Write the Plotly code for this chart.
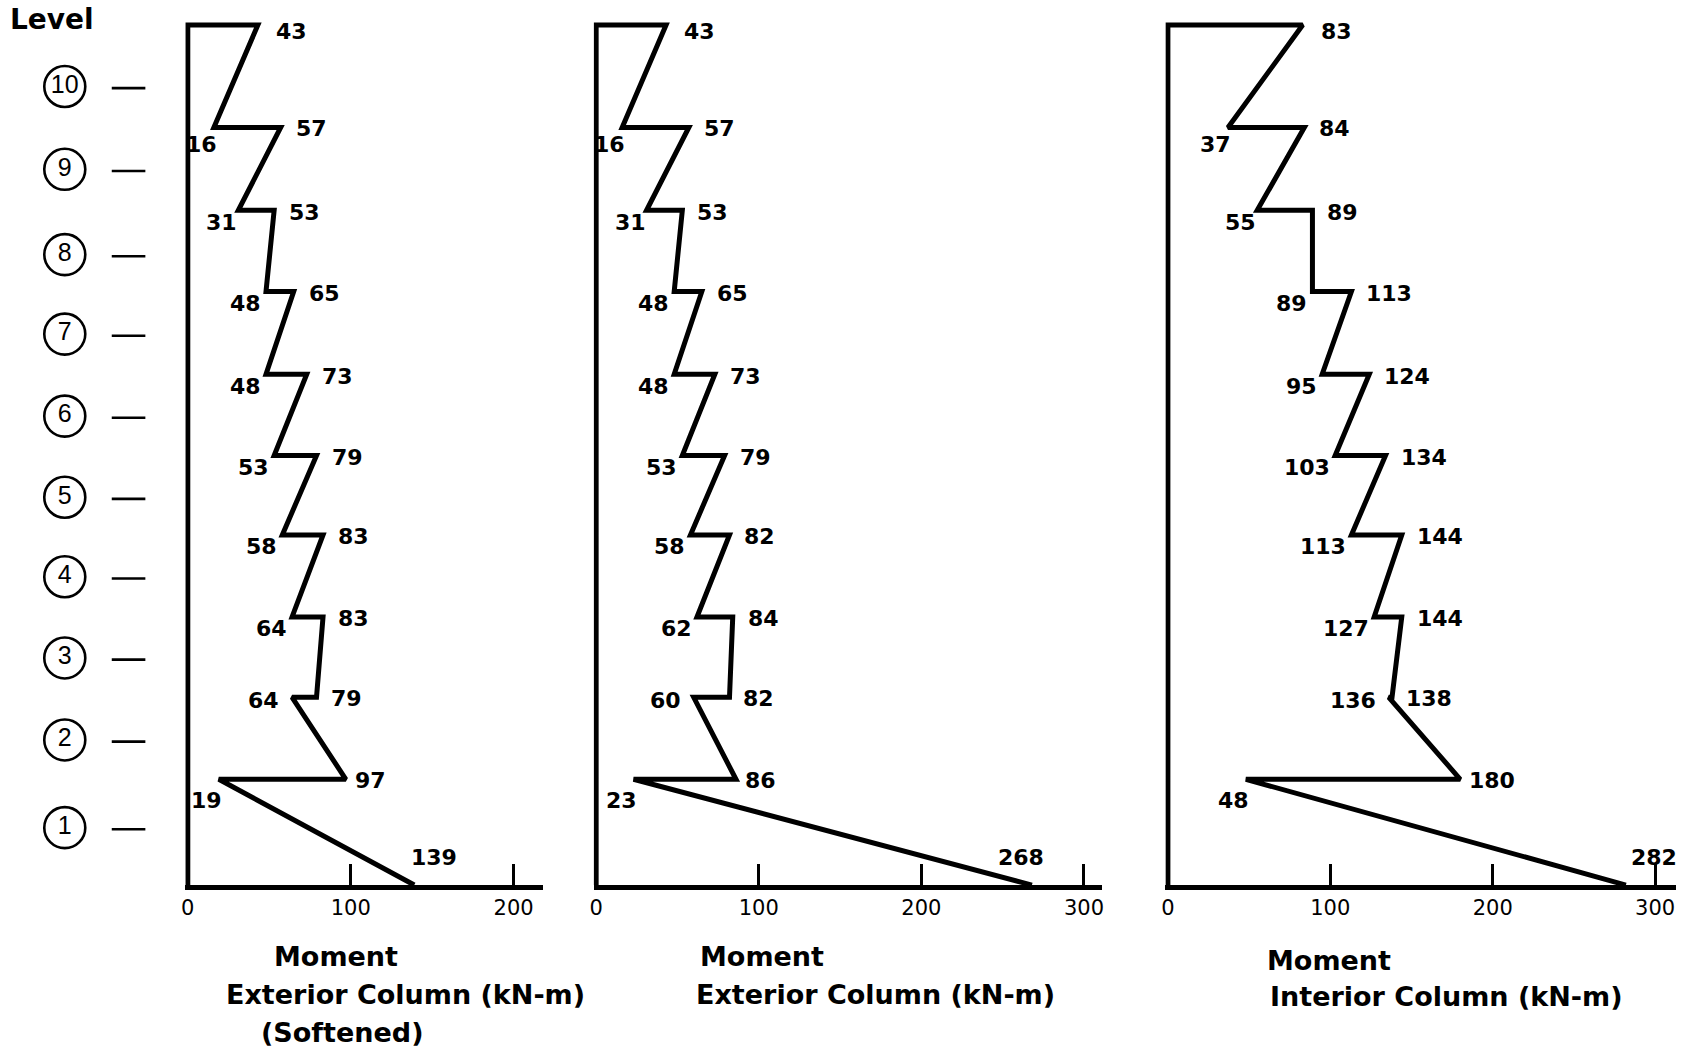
import plotly.graph_objects as go

# ---------------- data ----------------
# elevation of the floor lines, base -> roof (drawing units)
floor_elev = [0.0, 1.29, 2.29, 3.27, 4.27, 5.24, 6.23, 7.24, 8.23, 9.24, 10.49]
# position of the circled level markers (level 1 -> 10)
level_labels = ["1", "2", "3", "4", "5", "6", "7", "8", "9", "10"]
level_pos = [0.70, 1.77, 2.77, 3.76, 4.73, 5.72, 6.72, 7.69, 8.73, 9.74]

# column end moments per storey, listed from storey 10 (top) down to storey 1
ext_soft_top = [43, 57, 53, 65, 73, 79, 83, 83, 64, 19]
ext_soft_bot = [16, 31, 48, 48, 53, 58, 64, 79, 97, 139]
ext_top = [43, 57, 53, 65, 73, 79, 82, 84, 60, 23]
ext_bot = [16, 31, 48, 48, 53, 58, 62, 82, 86, 268]
int_top = [83, 84, 89, 113, 124, 134, 144, 144, 136, 48]
int_bot = [37, 55, 89, 95, 103, 113, 127, 138, 180, 282]

ticks_1 = [0, 100, 200]
ticks_23 = [0, 100, 200, 300]

titles_1 = ["Moment", "Exterior Column (kN-m)", "(Softened)"]
titles_2 = ["Moment", "Exterior Column (kN-m)"]
titles_3 = ["Moment", "Interior Column (kN-m)"]

# ---------------- layout / style ----------------
FONT = "DejaVu Sans"
BLACK = "black"
Y_RANGE = [0, 10.6]
Y_DOMAIN = [0.1595, 0.9848]
LW = 5

panels = [
    dict(top=ext_soft_top, bot=ext_soft_bot, ticks=ticks_1, xr=[-1.5, 218],
         dom=[0.10763, 0.31987], base_dx=20,
         titles=titles_1, tpos=[(0.1969, 0.0912), (0.2383, 0.0560), (0.2011, 0.0199)]),
    dict(top=ext_top, bot=ext_bot, ticks=ticks_23, xr=[-1.5, 311],
         dom=[0.34997, 0.65156], base_dx=-11,
         titles=titles_2, tpos=[(0.4500, 0.0912), (0.5174, 0.0560)]),
    dict(top=int_top, bot=int_bot, ticks=ticks_23, xr=[-1.5, 313],
         dom=[0.68929, 0.99243], base_dx=28,
         titles=titles_3, tpos=[(0.7865, 0.0883), (0.8563, 0.0541)]),
]

fig = go.Figure()
annotations = []
lab_font = dict(family=FONT, size=22, color=BLACK, weight="bold")

for idx, p in enumerate(panels):
    n = "" if idx == 0 else str(idx + 1)
    xs = [0, 0]
    ys = [0, floor_elev[10]]
    for i in range(10):
        s = 10 - i
        xs += [p["top"][i], p["bot"][i]]
        ys += [floor_elev[s], floor_elev[s - 1]]
    fig.add_trace(go.Scatter(x=xs, y=ys, mode="lines",
                             line=dict(color=BLACK, width=LW),
                             xaxis="x" + n, yaxis="y" + n,
                             hoverinfo="skip", showlegend=False))

    def lab(val, y, anchor, dx, dy):
        annotations.append(dict(x=val, y=y, xref="x" + n, yref="y" + n,
                                text=str(val), showarrow=False,
                                xanchor=anchor, yanchor="middle",
                                xshift=dx, yshift=dy, font=lab_font))

    # roof value
    lab(p["top"][0], floor_elev[10], "left", 16, -6)
    # joints 9 .. 1
    for k in range(9, 0, -1):
        b_above = p["bot"][9 - k]
        t_below = p["top"][10 - k]
        hi, lo = max(b_above, t_below), min(b_above, t_below)
        y = floor_elev[k]
        if k == 1:
            lab(hi, y, "left", 7, -1)
            lab(lo, y, "right", 5, -21)
        elif k == 2:
            lab(hi, y, "left", 12, -1)
            lab(lo, y, "right", -11, -3)
        elif k == 9:
            lab(hi, y, "left", 13, -1)
            lab(lo, y, "right", 5, -17)
        elif k == 8:
            lab(hi, y, "left", 13, -2)
            lab(lo, y, "right", 1, -12)
        else:
            lab(hi, y, "left", 13, -2)
            lab(lo, y, "right", -3, -12)
    # base value
    annotations.append(dict(x=p["bot"][9], y=0, xref="x" + n, yref="y" + n,
                            text=str(p["bot"][9]), showarrow=False,
                            xanchor="center", yanchor="middle",
                            xshift=p["base_dx"], yshift=28, font=lab_font))

    fig.update_layout(**{
        "xaxis" + n: dict(domain=p["dom"], range=p["xr"], anchor="y" + n,
                          showline=True, linewidth=LW, linecolor=BLACK,
                          ticks="inside", ticklen=21, tickwidth=3, tickcolor=BLACK,
                          tickvals=p["ticks"], ticktext=[str(t) for t in p["ticks"]],
                          tickfont=dict(family=FONT, size=21, color=BLACK),
                          showgrid=False, zeroline=False, fixedrange=True),
        "yaxis" + n: dict(domain=Y_DOMAIN, range=Y_RANGE, anchor="x" + n,
                          visible=False, showgrid=False, zeroline=False,
                          fixedrange=True),
    })

    for t, (tx, ty) in zip(p["titles"], p["tpos"]):
        annotations.append(dict(x=tx, y=ty, xref="paper", yref="paper", text=t,
                                showarrow=False, xanchor="center", yanchor="middle",
                                font=dict(family=FONT, size=27, color=BLACK,
                                          weight="bold")))

# level markers (own subplot sharing the vertical scale)
fig.add_trace(go.Scatter(x=[61] * len(level_pos), y=level_pos, mode="markers+text",
                         text=level_labels, textposition="middle center",
                         textfont=dict(family="Liberation Sans", size=25, color=BLACK),
                         marker=dict(symbol="circle-open", size=41, color=BLACK,
                                     line=dict(width=2.6, color=BLACK)),
                         xaxis="x4", yaxis="y4", hoverinfo="skip", showlegend=False))
fig.add_trace(go.Scatter(x=[125] * len(level_pos), y=[v - 0.02 for v in level_pos],
                         mode="markers",
                         marker=dict(symbol="line-ew", size=24, color=BLACK,
                                     line=dict(width=2.6, color=BLACK)),
                         xaxis="x4", yaxis="y4", hoverinfo="skip", showlegend=False))

annotations.append(dict(x=0.0024, y=0.9815, xref="paper", yref="paper", text="Level",
                        showarrow=False, xanchor="left", yanchor="middle",
                        font=dict(family=FONT, size=28, color=BLACK, weight="bold")))

fig.update_layout(
    xaxis4=dict(domain=[0, 0.1], range=[0, 169.1], anchor="y4", visible=False,
                fixedrange=True),
    yaxis4=dict(domain=Y_DOMAIN, range=Y_RANGE, anchor="x4", visible=False,
                fixedrange=True),
    annotations=annotations,
    width=1691, height=1053, autosize=False,
    margin=dict(l=0, r=0, t=0, b=0),
    paper_bgcolor="white", plot_bgcolor="white",
    showlegend=False,
)

fig.write_html("out.html", config={"displayModeBar": False})
